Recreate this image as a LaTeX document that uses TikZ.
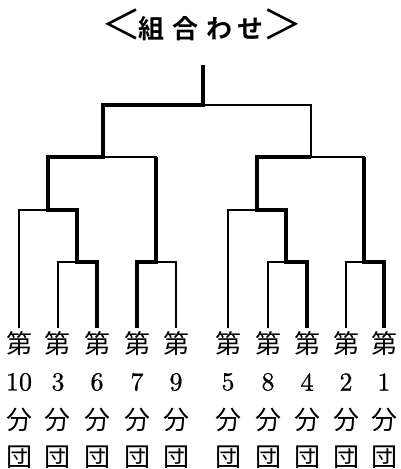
\documentclass[tikz,border=0pt]{standalone}
\usepackage{fontspec}
\usepackage{graphicx}
\newfontfamily\cjk{Noto Sans CJK JP}
\newfontfamily\cjkb{Noto Sans CJK JP Bold}
\newfontfamily\numf[FakeBold=0.8]{lmroman10-regular.otf}
\begin{document}
\begin{tikzpicture}[x=1pt,y=-1pt,
  thinline/.style={line width=1.8pt},
  thickline/.style={line width=4.8pt},
  lbl/.style={font=\cjk\fontsize{26pt}{26pt}\selectfont,inner sep=0pt},
  num/.style={font=\numf\fontsize{26pt}{26pt}\selectfont,inner sep=0pt},
  ttl/.style={font=\cjkb\fontsize{26pt}{26pt}\selectfont,inner sep=0pt}]
\useasboundingbox (0,0) rectangle (401,469);
% title
\node[ttl] (title) at (202,25) {\raisebox{-1pt}{\cjk\scalebox{1.55}{＜}}\kern-3pt組\kern8pt合\kern8pt わ\kern5pt せ\kern-1pt\raisebox{-1pt}{\cjk\scalebox{1.55}{＞}}};
% leaves
\foreach \x/\n in {19/10,58/3,97/6,137/7,176/9,228/5,268/8,307/4,346/2,384/1}{
  \coordinate (l\n) at (\x,328);
  \node[lbl] (d\n) at (\x,344) {第};
  \node[num] (n\n) at (\x,382) {\n};
  \node[lbl] (f\n) at (\x,420) {分};
  \node[lbl] (g\n) at (\x,457) {団};
}
% junctions
\coordinate (a) at (77,262);
\coordinate (b) at (156,262);
\coordinate (c) at (48,210);
\coordinate (d) at (103,157);
\coordinate (e) at (286,262);
\coordinate (f) at (364,262);
\coordinate (g) at (257,210);
\coordinate (h) at (311,157);
\coordinate (r) at (203,105);
\coordinate (top) at (203,65);
% thin bracket
\draw[thinline] (l3) |- (a) -| (l6);
\draw[thinline] (l7) |- (b) -| (l9);
\draw[thinline] (l10) |- (c) -| (a);
\draw[thinline] (c) |- (d) -| (b);
\draw[thinline] (l8) |- (e) -| (l4);
\draw[thinline] (l5) |- (g) -| (e);
\draw[thinline] (l2) |- (f) -| (l1);
\draw[thinline] (g) |- (h) -| (f);
\draw[thinline] (d) |- (r) -| (h);
\draw[thinline] (r) -- (top);
% winners
\draw[thickline] (l6) |- (a) |- (c) |- (d) |- (r) -- (top);
\draw[thickline] (l7) |- (b) -- (b |- d);
\draw[thickline] (l4) |- (e) |- (g) |- (h);
\draw[thickline] (l1) |- (f) -- (f |- h);
\end{tikzpicture}
\end{document}
